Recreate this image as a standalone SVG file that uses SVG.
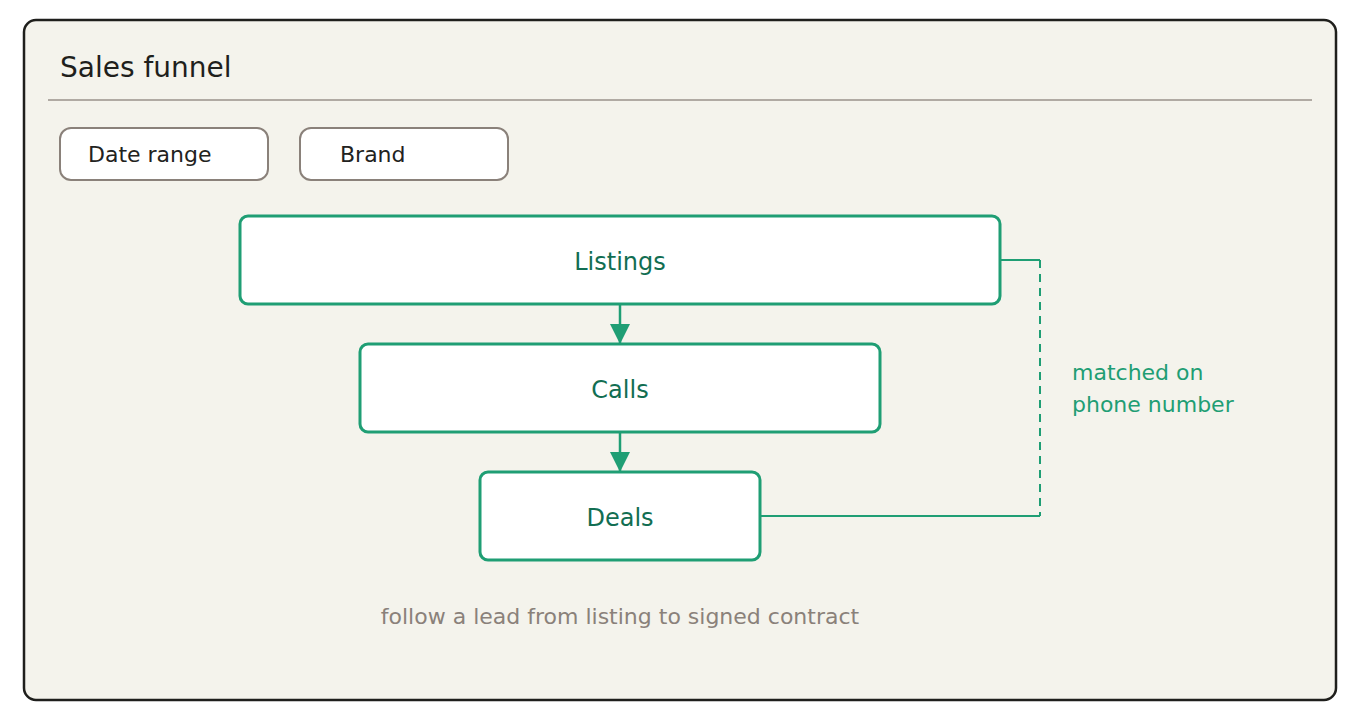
<svg xmlns="http://www.w3.org/2000/svg" width="1360" height="720" viewBox="0 0 1360 720">
  <style>
    .t { font-family: "DejaVu Sans", "Liberation Sans", sans-serif; }
    .chip rect { fill: #ffffff; stroke: #8a817a; stroke-width: 2; }
    .chip text { font-size: 22px; fill: #222220; }
    .node rect { fill: #ffffff; stroke: #1f9e74; stroke-width: 3; }
    .node text { font-size: 24px; fill: #126e52; text-anchor: middle; }
    .conn { stroke: #1f9e74; stroke-width: 2.5; fill: none; }
    .bracket { stroke: #1f9e74; stroke-width: 2; fill: none; }
  </style>
  <defs>
    <marker id="arrow" markerWidth="20" markerHeight="20" refX="20" refY="10" orient="auto" markerUnits="userSpaceOnUse" viewBox="0 0 20 20">
      <path d="M0,0 L20,10 L0,20 Z" fill="#1f9e74"/>
    </marker>
  </defs>

  <rect x="24" y="20" width="1312" height="680" rx="12" fill="#f4f3ec" stroke="#1f1f1c" stroke-width="2.5"/>
  <text class="t" x="60" y="77" font-size="28" fill="#1f1f1c">Sales funnel</text>
  <line x1="48" y1="100" x2="1312" y2="100" stroke="#b0aaa3" stroke-width="2"/>

  <g id="chip-date" class="chip t">
    <rect x="60" y="128" width="208" height="52" rx="11"/>
    <text x="88" y="162">Date range</text>
  </g>
  <g id="chip-brand" class="chip t">
    <rect x="300" y="128" width="208" height="52" rx="11"/>
    <text x="340" y="162">Brand</text>
  </g>

  <g id="connectors">
    <line class="conn" x1="620" y1="304" x2="620" y2="344" marker-end="url(#arrow)"/>
    <line class="conn" x1="620" y1="432" x2="620" y2="472" marker-end="url(#arrow)"/>
    <polyline class="bracket" points="1000,260 1040,260"/>
    <line class="bracket" x1="1040" y1="260" x2="1040" y2="516" stroke-dasharray="8 6"/>
    <polyline class="bracket" points="760,516 1040,516"/>
  </g>

  <g id="node-listings" class="node t">
    <rect x="240" y="216" width="760" height="88" rx="8"/>
    <text x="620" y="270">Listings</text>
  </g>
  <g id="node-calls" class="node t">
    <rect x="360" y="344" width="520" height="88" rx="8"/>
    <text x="620" y="398">Calls</text>
  </g>
  <g id="node-deals" class="node t">
    <rect x="480" y="472" width="280" height="88" rx="8"/>
    <text x="620" y="526">Deals</text>
  </g>

  <g id="annotation" class="t" font-size="22" fill="#1f9e74">
    <text x="1072" y="380">matched on</text>
    <text x="1072" y="412">phone number</text>
  </g>

  <text class="t" x="620" y="624" font-size="22" fill="#8a817a" text-anchor="middle">follow a lead from listing to signed contract</text>
</svg>
